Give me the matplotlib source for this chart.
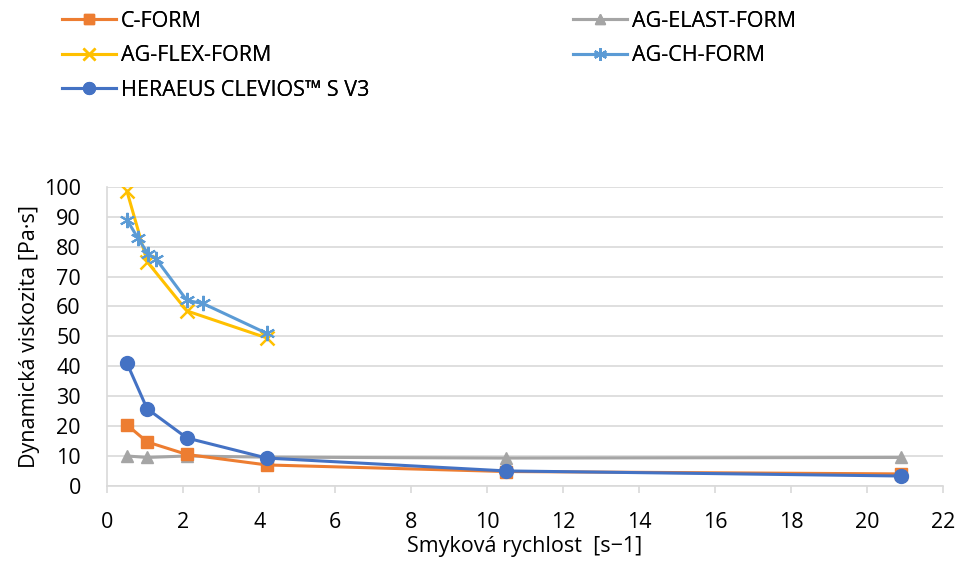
import matplotlib.pyplot as plt
from matplotlib.lines import Line2D

plt.rcParams['font.family'] = ['Open Sans', 'DejaVu Sans']

# shear rate [1/s] and dynamic viscosity [Pa·s]
x_c = [0.52, 1.05, 2.1, 4.2, 10.5, 20.9]
y_c = [20.4, 14.7, 10.5, 7.0, 4.8, 4.0]

x_elast = [0.52, 1.05, 2.1, 4.2, 10.5, 20.9]
y_elast = [10.0, 9.5, 10.0, 9.6, 9.3, 9.5]

x_flex = [0.52, 1.05, 2.1, 4.2]
y_flex = [98.5, 75.0, 58.5, 49.5]

x_ch = [0.52, 0.8, 1.08, 1.28, 2.1, 2.52, 4.2]
y_ch = [89.0, 83.0, 77.5, 76.0, 62.0, 61.0, 51.0]

x_her = [0.52, 1.05, 2.1, 4.2, 10.5, 20.9]
y_her = [41.0, 25.8, 16.0, 9.3, 5.0, 3.3]

xticks = list(range(0, 23, 2))
yticks = list(range(0, 101, 10))

FS = 15.5

fig = plt.figure(figsize=(9.66, 5.75), dpi=100)
ax = fig.add_axes([0.111, 0.155, 0.865, 0.52])

ax.plot(x_elast, y_elast, '-^', color='#A5A5A5', lw=2.2, ms=9, label='AG-ELAST-FORM')
ax.plot(x_c, y_c, '-s', color='#ED7D31', lw=2.2, ms=9, label='C-FORM')
ax.plot(x_flex, y_flex, '-x', color='#FFC000', lw=2.2, ms=10, mew=1.8, label='AG-FLEX-FORM')
ax.plot(x_ch, y_ch, '-', marker=(6, 2, 0), color='#5B9BD5', lw=2.2, ms=11, mew=1.5, label='AG-CH-FORM')
ax.plot(x_her, y_her, '-o', color='#4472C4', lw=2.2, ms=10, label='HERAEUS CLEVIOS™ S V3')

ax.set_xlim(0, 22)
ax.set_ylim(0, 100)
ax.set_xticks(xticks)
ax.set_yticks(yticks)
ax.grid(axis='y', color='#D9D9D9', lw=1.2)
ax.set_axisbelow(True)
for s in ['top', 'right']:
    ax.spines[s].set_visible(False)
for s in ['left', 'bottom']:
    ax.spines[s].set_color('#D9D9D9')
    ax.spines[s].set_linewidth(1.2)
ax.tick_params(axis='x', direction='out', length=5, color='#D9D9D9', width=1.2,
               labelsize=FS, pad=14)
ax.tick_params(axis='y', length=0, labelsize=FS, pad=19)
ax.set_xlabel('Smyková rychlost  [s\u22121]', fontsize=FS, labelpad=2)
ax.set_ylabel('Dynamická viskozita [Pa·s]', fontsize=FS, labelpad=3)

# legend: two blocks, left one with three entries, right one with two
h = {l.get_label(): l for l in ax.get_lines()}


def handles_for(names):
    out = []
    for name in names:
        ln = h[name]
        out.append(Line2D([], [], color=ln.get_color(), lw=2.2, marker=ln.get_marker(),
                          ms=ln.get_markersize() * 0.85, mew=ln.get_markeredgewidth()))
    return out


left = ['C-FORM', 'AG-FLEX-FORM', 'HERAEUS CLEVIOS™ S V3']
right = ['AG-ELAST-FORM', 'AG-CH-FORM']
for names, x0 in [(left, 62 / 966), (right, 573 / 966)]:
    leg = fig.legend(handles_for(names), names, loc='upper left',
                     bbox_to_anchor=(x0, 1 - 11 / 575), frameon=False, fontsize=FS,
                     handlelength=2.5, handletextpad=0.25, labelspacing=0.62,
                     borderpad=0, borderaxespad=0)
    fig.add_artist(leg)

fig.savefig('out.png', dpi=100)
